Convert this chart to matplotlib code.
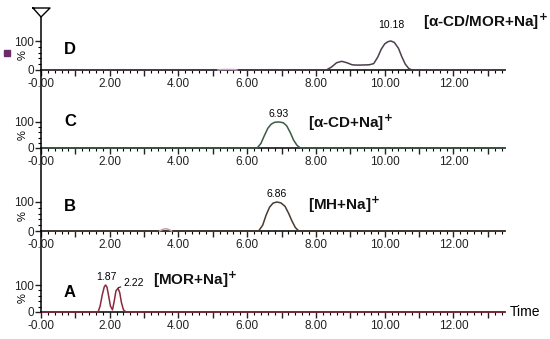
import matplotlib
matplotlib.use('Agg')
import matplotlib.pyplot as plt
import matplotlib.ticker as ticker
from matplotlib.lines import Line2D

plt.rcParams['font.family'] = ['Liberation Sans', 'DejaVu Sans']

# Cromatogramas (tempo em min, intensidade em %)
tempo_a = [0.0, 1.66, 1.72, 1.78, 1.84, 1.88, 1.92, 1.97, 2.02, 2.08, 2.13, 2.18, 2.24, 2.29, 2.34, 2.40, 2.47, 13.5]
inten_a = [0, 0, 22, 62, 93, 100, 92, 58, 22, 8, 40, 78, 88, 72, 35, 8, 0, 0]

tempo_b = [0.0, 6.33, 6.45, 6.55, 6.65, 6.75, 6.86, 6.98, 7.10, 7.20, 7.30, 7.40, 7.50, 13.5]
inten_b = [0, 0, 20, 55, 82, 96, 100, 97, 85, 62, 35, 12, 0, 0]
tempo_b_menor = [3.45, 3.55, 3.65, 3.72, 3.80]
inten_b_menor = [0, 6, 8, 5, 0]

tempo_c = [0.0, 6.29, 6.40, 6.50, 6.60, 6.70, 6.80, 6.93, 7.05, 7.15, 7.25, 7.35, 7.45, 7.55, 13.5]
inten_c = [0, 0, 18, 48, 76, 92, 99, 100, 97, 85, 60, 30, 10, 0, 0]

tempo_d = [0.0, 8.30, 8.45, 8.60, 8.75, 8.90, 9.05, 9.15, 9.30, 9.55, 9.68, 9.80, 9.90,
           10.00, 10.10, 10.18, 10.28, 10.40, 10.50, 10.60, 10.70, 10.80, 13.5]
inten_d = [0, 0, 10, 25, 30, 25, 18, 17, 17, 18, 22, 45, 72, 90, 98, 100, 95, 75, 45, 20, 5, 0, 0]
tempo_d_menor = [5.15, 5.25, 5.45, 5.60, 5.70]
inten_d_menor = [0, 1.5, 1.8, 1.5, 0]

# rótulos
paineis = ['D', 'C', 'B', 'A']
ions = [r'[α-CD/MOR+Na]$^{\mathbf{+}}$', r'[α-CD+Na]$^{\mathbf{+}}$',
        r'[MH+Na]$^{\mathbf{+}}$', r'[MOR+Na]$^{\mathbf{+}}$']

W, H = 550, 339
fx = lambda x: x / W
fy = lambda y: 1 - y / H

# (linha de base, topo) em pixels
posicoes = [(70, 41), (148, 122), (231, 202), (312, 285)]
x0_px, x1_px = 41, 505

fig = plt.figure(figsize=(5.5, 3.39), dpi=100)


def formatar_x(v, pos):
    n = int(round(v))
    if n % 2:
        return ''
    if n == 0:
        return '-0.00'
    return '%.2f' % v


def configurar_eixo(ax):
    ax.set_xlim(0, 13.5)
    ax.set_ylim(0, 100)
    for s in ['top', 'right', 'left']:
        ax.spines[s].set_visible(False)
    ax.spines['bottom'].set_linewidth(1.1)
    ax.xaxis.set_major_locator(ticker.MultipleLocator(1))
    ax.xaxis.set_minor_locator(ticker.MultipleLocator(0.2))
    ax.xaxis.set_major_formatter(ticker.FuncFormatter(formatar_x))
    ax.tick_params(axis='x', which='major', direction='out', length=4.5, width=1,
                   labelsize=8.5, pad=1.5, colors='#222222')
    ax.tick_params(axis='x', which='minor', direction='out', length=2.5, width=0.8)
    ax.set_yticks([0, 100])
    ax.set_yticklabels(['0', '100'])
    ax.yaxis.set_minor_locator(ticker.MultipleLocator(20))
    ax.tick_params(axis='y', which='major', length=4, width=1, labelsize=8.5, pad=1, colors='#222222')
    ax.tick_params(axis='y', which='minor', length=2, width=0.8)
    ax.set_ylabel('%', fontsize=8)
    ax.yaxis.set_label_coords(-13 / (x1_px - x0_px), 0.5)
    ax.patch.set_visible(False)


eixos = []
for (base, topo) in posicoes:
    ax = fig.add_axes([fx(x0_px), fy(base), (x1_px - x0_px) / W, (base - topo) / H])
    configurar_eixo(ax)
    eixos.append(ax)

ax_d, ax_c, ax_b, ax_a = eixos

ax_d.plot(tempo_d, inten_d, color='#4b3f4b', lw=1.1, clip_on=False, zorder=3)
ax_d.plot(tempo_d_menor, inten_d_menor, color='#c9a0c9', lw=1.1, clip_on=False, zorder=3)
ax_c.plot(tempo_c, inten_c, color='#3d5a45', lw=1.1, clip_on=False, zorder=3)
ax_b.plot(tempo_b, inten_b, color='#4a3a30', lw=1.1, clip_on=False, zorder=3)
ax_b.plot(tempo_b_menor, inten_b_menor, color='#c8a0b0', lw=1.1, clip_on=False, zorder=3)
ax_a.plot(tempo_a, inten_a, color='#8a2a3a', lw=1.1, clip_on=False, zorder=3)

# picos
ax_d.annotate('10.18', xy=(10.18, 100), xytext=(0, 11), textcoords='offset pixels',
              ha='center', va='bottom', fontsize=7.5)
ax_c.annotate('6.93', xy=(6.90, 100), xytext=(0, 3), textcoords='offset pixels',
              ha='center', va='bottom', fontsize=7.5)
ax_b.annotate('6.86', xy=(6.86, 100), xytext=(0, 3), textcoords='offset pixels',
              ha='center', va='bottom', fontsize=7.5)
ax_a.annotate('1.87', xy=(1.90, 100), xytext=(0, 3), textcoords='offset pixels',
              ha='center', va='bottom', fontsize=7.5)
ax_a.annotate('2.22', xy=(2.25, 90), xytext=(2.40, 108), textcoords='data',
              ha='left', va='center', fontsize=7.5,
              arrowprops=dict(arrowstyle='-', lw=0.8, color='#222222', shrinkA=0, shrinkB=0))

# letras e íons
letras_y = [69, 100, 83, 74]
ions_x = [11.1, 7.76, 7.76, 3.25]
ions_y = [165, 96, 90, 118]
for ax, letra, ly, ion, ix, iy in zip(eixos, paineis, letras_y, ions, ions_x, ions_y):
    ax.text(0.84, ly, letra, ha='center', va='center', fontsize=12, fontweight='bold')
    ax.text(ix, iy, ion, ha='left', va='center', fontsize=11, fontweight='bold', color='#111111')

ax_a.text(14.07, 0, 'Time', ha='center', va='center', fontsize=10)

# linha vertical comum e marcador
fig.add_artist(Line2D([fx(41), fx(41)], [fy(17), fy(312)], color='black', lw=1.1))
fig.add_artist(Line2D([fx(33), fx(50), fx(41), fx(33)], [fy(8), fy(8), fy(17), fy(8)],
                      color='black', lw=1.0))
fig.add_artist(Line2D([fx(7)], [fy(53)], marker='s', ms=4.5, color='#6b2c6b', lw=0))

fig.savefig('out.png', dpi=100)
